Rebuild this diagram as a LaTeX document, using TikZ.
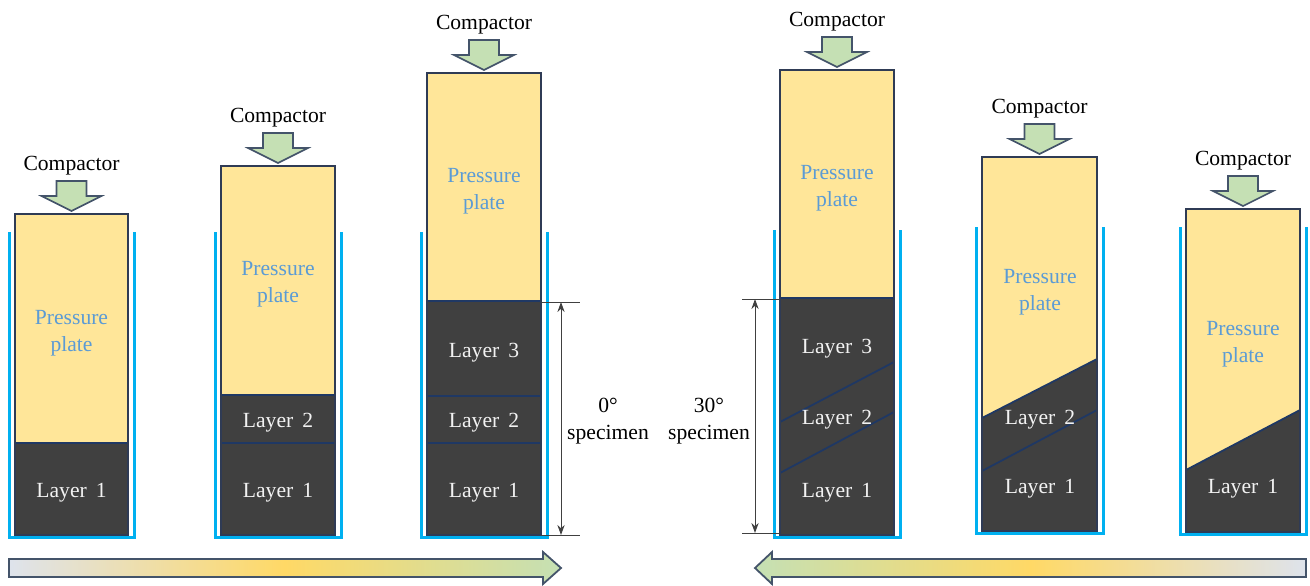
\documentclass[tikz,border=0pt]{standalone}
\usepackage{fontspec}
\setmainfont{Liberation Serif}
\usetikzlibrary{arrows.meta}
\definecolor{plate}{HTML}{FFE699}
\definecolor{soil}{HTML}{404040}
\definecolor{edge}{HTML}{2F3B55}
\definecolor{seam}{HTML}{1F3864}
\definecolor{wall}{HTML}{00B0F0}
\definecolor{ptext}{HTML}{5B9BD5}
\definecolor{comp}{HTML}{C5E0B4}
\definecolor{arredge}{HTML}{44546A}
\definecolor{gry}{HTML}{DEE3EC}
\definecolor{yel}{HTML}{FFD966}
\definecolor{dimc}{HTML}{404040}
\newcommand\mycont[6]{%
  % #1 name, #2 xL, #3 xR, #4 top, #5 bottom, #6 wall top
  \pgfmathsetmacro\cx{(#2+#3)/2}
  \draw[wallstyle] ({#2-6},#6) -- ({#2-6},{#5+2}) -- ({#3+6},{#5+2}) -- ({#3+6},#6);
  \fill[plate] (#2,#4) rectangle (#3,#5);
  \draw[comparrow] ({\cx-15},{#4-33}) -- ({\cx+15},{#4-33}) -- ({\cx+15},{#4-18}) -- ({\cx+30},{#4-18})
     -- (\cx,{#4-3}) -- ({\cx-30},{#4-18}) -- ({\cx-15},{#4-18}) -- cycle;
  \node[lbl] (#1comp) at (\cx,{#4-48}) {Compactor};
}
\newcommand\myoutline[5]{%
  \draw[plateedge] (#2,#4) rectangle (#3,#5);
}
\begin{document}
\begin{tikzpicture}[x=0.5pt,y=-0.5pt,
  font=\fontsize{10.8}{13.5}\selectfont,
  wallstyle/.style={draw=wall,line width=1.5pt},
  plateedge/.style={draw=edge,line width=0.8pt},
  seamline/.style={draw=seam,line width=0.9pt},
  comparrow/.style={fill=comp,draw=arredge,line width=0.8pt,line join=miter},
  lbl/.style={inner sep=0pt,text=black},
  ptxt/.style={inner sep=0pt,align=center,text=ptext},
  ltxt/.style={inner sep=0pt,text=white!95!black},
  dim/.style={draw=dimc,line width=0.5pt,{Stealth[length=5pt,width=3.6pt,inset=1.6pt]}-{Stealth[length=5pt,width=3.6pt,inset=1.6pt]}},
  ext/.style={draw=dimc,line width=0.5pt},
  bigarrow/.style={draw=arredge,line width=0.9pt,line join=miter}]
\useasboundingbox (0,0) rectangle (1310,585);

% ---------- container 1
\mycont{a}{15}{128}{214}{535}{232}
\fill[soil] (15,443) rectangle (128,535);
\draw[seamline] (15,443) -- (128,443);
\myoutline{a}{15}{128}{214}{535}
\node[ptxt] (apl) at (71.5,333) {Pressure\\plate};
\node[ltxt] (al1) at (71.5,493) {Layer\, 1};

% ---------- container 2
\mycont{b}{221}{335}{166}{535}{232}
\fill[soil] (221,395) rectangle (335,535);
\draw[seamline] (221,395) -- (335,395);
\draw[seamline] (221,443) -- (335,443);
\myoutline{b}{221}{335}{166}{535}
\node[ptxt] (bpl) at (278,284) {Pressure\\plate};
\node[ltxt] (bl2) at (278,423) {Layer\, 2};
\node[ltxt] (bl1) at (278,493) {Layer\, 1};

% ---------- container 3
\mycont{c}{427}{541}{73}{535}{232}
\fill[soil] (427,301) rectangle (541,535);
\draw[seamline] (427,301) -- (541,301);
\draw[seamline] (427,396) -- (541,396);
\draw[seamline] (427,443) -- (541,443);
\myoutline{c}{427}{541}{73}{535}
\node[ptxt] (cpl) at (484,191) {Pressure\\plate};
\node[ltxt] (cl3) at (484,353) {Layer\, 3};
\node[ltxt] (cl2) at (484,423) {Layer\, 2};
\node[ltxt] (cl1) at (484,493) {Layer\, 1};

% dimension 0 deg
\coordinate (c3e1) at (541,302);
\coordinate (c3e2) at (580,302);
\coordinate (c3e3) at (541,535);
\coordinate (c3e4) at (580,535);
\coordinate (c3d1) at (561,302);
\coordinate (c3d2) at (561,535);
\draw[ext] (c3e1) -- (c3e2);
\draw[ext] (c3e3) -- (c3e4);
\draw[dim] (c3d1) -- (c3d2);
\node[lbl,align=center] (zero) at (608,421) {0°\\specimen};

% ---------- container 4
\mycont{d}{780}{894}{70}{535}{230}
\fill[soil] (780,298) rectangle (894,535);
\draw[seamline] (780,298) -- (894,298);
\draw[seamline] (780,422) -- (894,362);
\draw[seamline] (780,473) -- (894,412);
\myoutline{d}{780}{894}{70}{535}
\node[ptxt] (dpl) at (837,188) {Pressure\\plate};
\node[ltxt] (dl3) at (837,349) {Layer\, 3};
\node[ltxt] (dl2) at (837,420) {Layer\, 2};
\node[ltxt] (dl1) at (837,493) {Layer\, 1};

% dimension 30 deg
\coordinate (d4e1) at (742,299);
\coordinate (d4e2) at (780,299);
\coordinate (d4e3) at (742,533);
\coordinate (d4e4) at (780,533);
\coordinate (d4d1) at (755,299);
\coordinate (d4d2) at (755,533);
\draw[ext] (d4e1) -- (d4e2);
\draw[ext] (d4e3) -- (d4e4);
\draw[dim] (d4d1) -- (d4d2);
\node[lbl,align=center] (thirty) at (709,421) {30°\\specimen};

% ---------- container 5
\mycont{e}{982}{1097}{157}{531}{227}
\fill[soil] (982,418) -- (1097,359) -- (1097,531) -- (982,531) -- cycle;
\draw[seamline] (982,418) -- (1097,359);
\draw[seamline] (982,471) -- (1097,410);
\myoutline{e}{982}{1097}{157}{531}
\node[ptxt] (epl) at (1040,292) {Pressure\\plate};
\node[ltxt] (el2) at (1040,420) {Layer\, 2};
\node[ltxt] (el1) at (1040,489) {Layer\, 1};

% ---------- container 6
\mycont{f}{1186}{1300}{209}{532}{227}
\fill[soil] (1186,470) -- (1300,410) -- (1300,532) -- (1186,532) -- cycle;
\draw[seamline] (1186,470) -- (1300,410);
\myoutline{f}{1186}{1300}{209}{532}
\node[ptxt] (fpl) at (1243,344) {Pressure\\plate};
\node[ltxt] (fl1) at (1243,489) {Layer\, 1};

% ---------- bottom arrows
\path[bigarrow,left color=gry,right color=comp,middle color=yel]
  (9,559) -- (543,559) -- (543,552) -- (561,568) -- (543,584) -- (543,577) -- (9,577) -- cycle;
\path[bigarrow,left color=comp,right color=gry,middle color=yel]
  (1306,559) -- (772,559) -- (772,552) -- (755,568) -- (772,584) -- (772,577) -- (1306,577) -- cycle;
\end{tikzpicture}
\end{document}
